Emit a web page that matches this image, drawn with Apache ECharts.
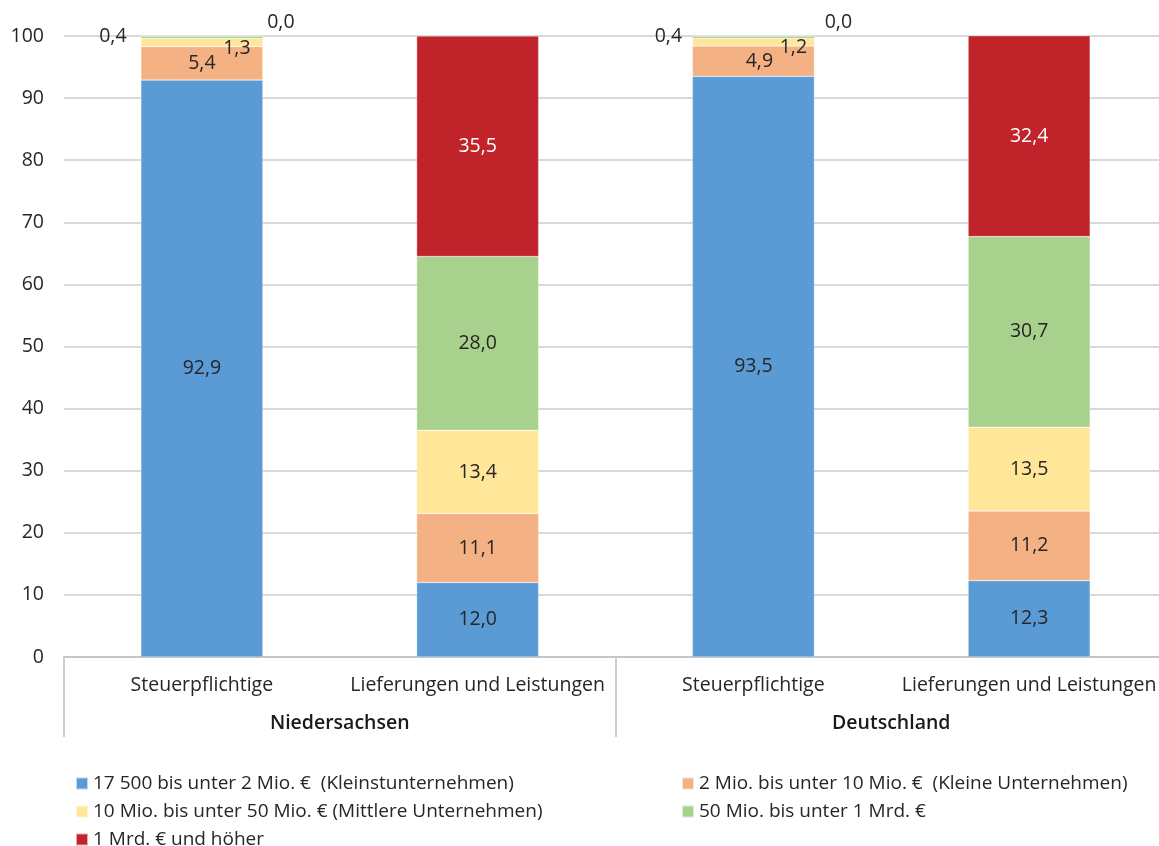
<!DOCTYPE html>
<html>
<head>
<meta charset="utf-8">
<script src="https://cdn.jsdelivr.net/npm/echarts@6/dist/echarts.min.js"></script>
<style>
html,body{margin:0;padding:0;background:#fff;overflow:hidden;}
#chart{width:1167px;height:846px;}
</style>
</head>
<body>
<div id="chart"></div>
<script>
const categories = ['Steuerpflichtige', 'Lieferungen und Leistungen', 'Steuerpflichtige', 'Lieferungen und Leistungen'];
const groups = ['Niedersachsen', 'Deutschland'];
const seriesNames = [
  '17 500 bis unter 2 Mio. €  (Kleinstunternehmen)',
  '2 Mio. bis unter 10 Mio. €  (Kleine Unternehmen)',
  '10 Mio. bis unter 50 Mio. € (Mittlere Unternehmen)',
  '50 Mio. bis unter 1 Mrd. €',
  '1 Mrd. € und höher'
];
const kleinst  = [92.9, 12.0, 93.5, 12.3];
const klein    = [5.4, 11.1, 4.9, 11.2];
const mittlere = [1.3, 13.4, 1.2, 13.5];
const gross    = [0.4, 28.0, 0.4, 30.7];
const mrd      = [0.0, 35.5, 0.0, 32.4];
const yTicks = [0, 10, 20, 30, 40, 50, 60, 70, 80, 90, 100];

const values = [kleinst, klein, mittlere, gross, mrd];
const colors = ['#5B9BD5', '#F4B183', '#FFE699', '#A9D18E', '#C0232A'];
const labelColors = ['#262626', '#262626', '#262626', '#262626', '#ffffff'];
// label offsets for small segments (style, not data)
const offsets = {
  '1-2': [6, 0],
  '2-0': [35, 6], '2-2': [40, 5],
  '3-0': [-89, -1], '3-2': [-85, -1],
  '4-0': [79, -14], '4-2': [85, -14]
};
const fmt = v => v.toFixed(1).replace('.', ',');
const FONT = 'Open Sans';
const TXT = '#262626';

const series = values.map((arr, si) => ({
  name: seriesNames[si],
  type: 'bar',
  stack: 'total',
  barWidth: 122,
  itemStyle: { color: colors[si], borderColor: 'rgba(255,255,255,0.6)', borderWidth: 0.5 },
  label: {
    show: true, position: 'inside', color: labelColors[si],
    fontFamily: FONT, fontSize: 19.5,
    formatter: p => fmt(p.value)
  },
  data: arr.map((v, di) => {
    const key = si + '-' + di;
    if (offsets[key]) {
      return { value: v, label: { offset: offsets[key], color: TXT } };
    }
    return v;
  })
}));

// legend placement: [left, top] per series (layout only)
const legendPos = [[75, 774], [681, 774], [75, 802], [681, 802], [75, 830]];
const legends = seriesNames.map((n, i) => ({
  left: legendPos[i][0], top: legendPos[i][1], padding: 0,
  itemWidth: 12, itemHeight: 12, icon: 'rect', data: [n],
  textStyle: { fontFamily: FONT, fontSize: 19, color: TXT }
}));

const chart = echarts.init(document.getElementById('chart'));
chart.setOption({
  animation: false,
  textStyle: { fontFamily: FONT },
  grid: { left: 64, top: 36, right: 0, bottom: 189, containLabel: false },
  legend: legends,
  xAxis: [
    {
      type: 'category', data: categories, position: 'bottom',
      axisLine: { show: true, lineStyle: { color: '#BFBFBF', width: 1.5 } },
      axisTick: { show: false },
      axisLabel: { interval: 0, margin: 18, fontFamily: FONT, fontSize: 19.5, color: TXT }
    },
    {
      type: 'category', data: groups, position: 'bottom',
      axisLine: { show: false },
      axisTick: { show: true, alignWithLabel: false, length: 80, interval: 0, lineStyle: { color: '#BFBFBF', width: 1.5 } },
      axisLabel: { interval: 0, margin: 56, fontFamily: FONT, fontSize: 19.5, fontWeight: 600, color: '#1a1a1a' }
    }
  ],
  yAxis: {
    type: 'value', min: 0, max: 100, interval: 10,
    axisLine: { show: false }, axisTick: { show: false },
    splitLine: { lineStyle: { color: '#D9D9D9', width: 2 } },
    axisLabel: { margin: 20, fontFamily: FONT, fontSize: 19.5, color: TXT,
      formatter: v => yTicks.includes(v) ? String(v) : '' }
  },
  series: series
});
</script>
</body>
</html>
